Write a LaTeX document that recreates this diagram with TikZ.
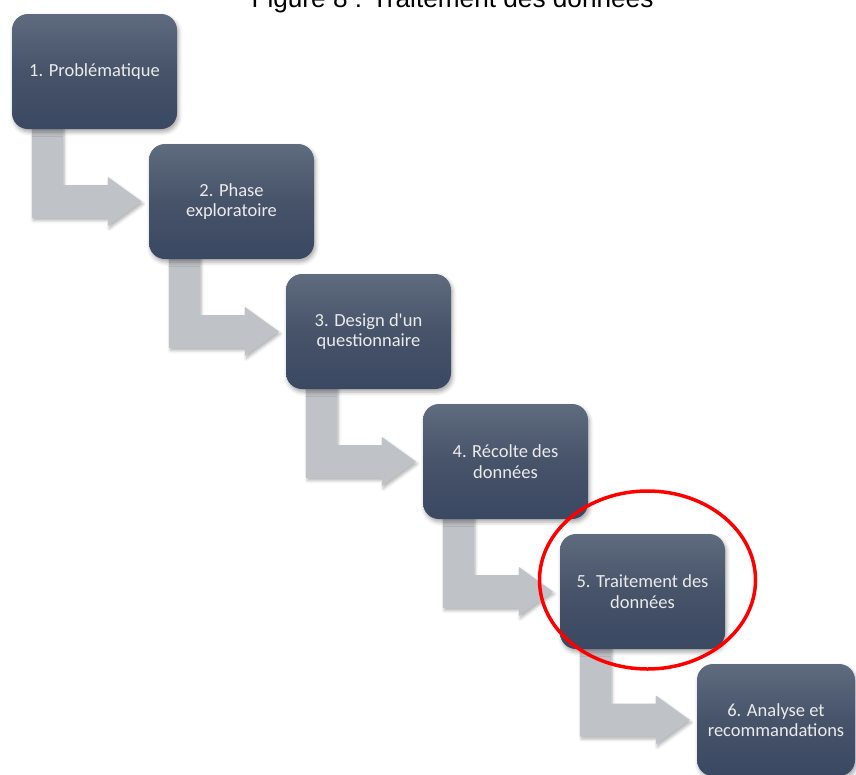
\documentclass[tikz,border=0pt]{standalone}
\usepackage{fontspec}
\setmainfont{Carlito}
\newfontfamily\titlefont{Liberation Sans}
\usetikzlibrary{calc,shadows.blur,shapes.geometric}
\definecolor{boxtop}{HTML}{5F6B7E}
\definecolor{boxmid}{HTML}{465369}
\definecolor{boxbot}{HTML}{3B4862}
\definecolor{arrowgray}{HTML}{BFC2C6}
\pgfdeclarelayer{bg}
\pgfsetlayers{bg,main}
\begin{document}
\begin{tikzpicture}[x=1pt,y=-1pt,
  stepbox/.style={rounded corners=16pt, minimum width=165pt, minimum height=115pt,
    top color=boxtop, bottom color=boxbot, middle color=boxmid, draw=none,
    text=white!92!black, align=center, inner sep=0pt,
    font=\fontsize{18.5pt}{20.5pt}\selectfont,
    blur shadow={shadow xshift=1.5pt, shadow yshift=-3pt, shadow opacity=35, shadow blur radius=4pt}},
  flowarrow/.style={fill=arrowgray, draw=none,
    blur shadow={shadow xshift=1.5pt, shadow yshift=-2.5pt, shadow opacity=30, shadow blur radius=3pt}},
  highlight/.style={draw=red, line width=3.5pt, ellipse, inner sep=0pt, fill=none}
]
\useasboundingbox (0,0) rectangle (856,774);
\node[font=\titlefont\fontsize{26.2pt}{30pt}\selectfont, anchor=base] (title) at (452.5,7) {Figure 8 : Traitement des données};

\node[stepbox] (b1) at (94.5,71.5) {1. Problématique};
\node[stepbox] (b2) at (231.5,201.5) {2. Phase\\exploratoire};
\node[stepbox] (b3) at (368.5,331.5) {3. Design d\textquotesingle un\\questionnaire};
\node[stepbox] (b4) at (505.5,461.5) {4. Récolte des\\données};
\node[stepbox] (b5) at (642.5,591.5) {5. Traitement des\\données};
\node[stepbox, minimum width=158pt, minimum height=112pt] (b6) at (776,720) {6. Analyse et\\recommandations};

\begin{pgfonlayer}{bg}
\foreach \a/\b in {b1/b2,b2/b3,b3/b4,b4/b5,b5/b6}{
  \fill[flowarrow] ($(\b.west)+(-117,-87.5)$) -- ($(\b.west)+(-86,-87.5)$)
    -- ($(\b.west)+(-86,-16.5)$) -- ($(\b.west)+(-41,-16.5)$)
    -- ($(\b.west)+(-41,-24.5)$) -- ($(\b.west)+(-7,0)$)
    -- ($(\b.west)+(-41,24.5)$) -- ($(\b.west)+(-41,16.5)$)
    -- ($(\b.west)+(-117,16.5)$) -- cycle;
}
\end{pgfonlayer}

\node[highlight, minimum width=216pt, minimum height=178pt] (hl) at ($(b5)+(5,-11.5)$) {};
\end{tikzpicture}
\end{document}
